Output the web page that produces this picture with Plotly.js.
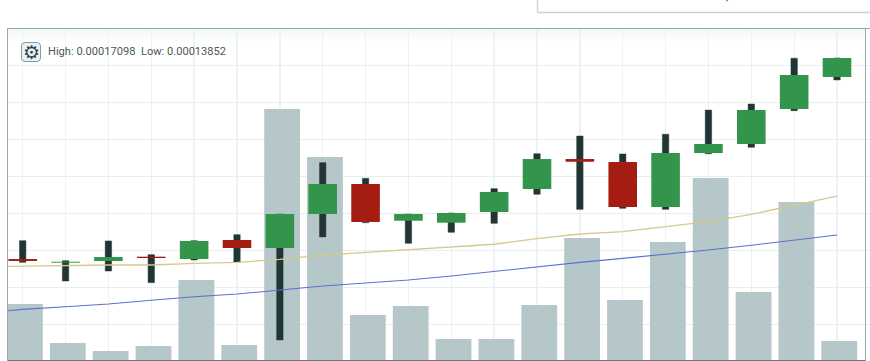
<!DOCTYPE html>
<html>
<head>
<meta charset="utf-8">
<script src="https://cdn.plot.ly/plotly-3.0.1.min.js"></script>
<style>html,body{margin:0;padding:0;background:#fff;overflow:hidden}#chart{width:870px;height:361px}</style>
</head>
<body>
<div id="chart"></div>
<script>
// Prices are in satoshi (1e-8)
const periods = [0,1,2,3,4,5,6,7,8,9,10,11,12,13,14,15,16,17,18,19];
const open  = [14784,14742,14761,14811,14784,15003,14911,15302,15648,15225,15202,15325,15590,15935,15901,15383,16004,16108,16511,16879];
const close = [14761,14753,14807,14796,14992,14911,15302,15648,15210,15302,15314,15556,15935,15904,15383,16004,16108,16499,16902,17098];
const high  = [14995,14765,14992,14834,14995,15064,15302,15893,15713,15302,15314,15594,15996,16200,15993,16220,16499,16568,17095,17098];
const low   = [14746,14531,14646,14512,14773,14750,13852,15038,15202,14965,15092,15195,15529,15356,15368,15356,15996,16070,16491,16845];
const volume = [56,17,9,14,80,15,251,203,45,54,21,21,55,122,60,118,182,68,158,19];
const maPeriods = [-1,0,1,2,3,4,5,6,7,8,9,10,11,12,13,14,15,16,17,18,19];
const maSlow = [14159,14205,14235,14266,14309,14350,14381,14431,14474,14508,14543,14589,14643,14700,14746,14792,14838,14888,14942,15003,15061];
const maFast = [14696,14704,14710,14715,14715,14735,14746,14779,14830,14861,14888,14919,14954,15018,15072,15099,15156,15214,15299,15406,15509];
const rangeText = "High: 0.00017098\u00A0\u00A0Low: 0.00013852";
const topText = "Diff. Volume: 0.03400790 215 ; 30117032.50035395";

const GREEN = "#33954b", RED = "#a51d12", DARK = "#213535", VOL = "#b5c7c9", GRID = "#e9efef";
const W = 870, H = 361, L = 8, R = 865, T = 29, B = 360;
const px = x => (x - L) / (R - L);
const py = y => (B - y) / (B - T);

const traces = [
  {type:"bar", x:periods, y:volume, xaxis:"x", yaxis:"y", width:0.835, offset:-0.365,
   marker:{color:VOL, line:{width:0}}, hoverinfo:"skip"},
  {type:"bar", x:periods, y:high.map((h,i)=>h-low[i]), base:low, xaxis:"x", yaxis:"y2", width:0.15,
   marker:{color:DARK, line:{width:1, color:"rgba(32,53,53,0.45)"}}, hoverinfo:"skip"},
  {type:"bar", x:periods, y:close.map((c,i)=>Math.abs(c-open[i])), base:close.map((c,i)=>Math.min(c,open[i])),
   xaxis:"x", yaxis:"y2", width:0.667,
   marker:{color:close.map((c,i)=>c>=open[i]?GREEN:RED), line:{width:0}}, hoverinfo:"skip"},
  {type:"scatter", mode:"lines", x:maPeriods, y:maFast, xaxis:"x", yaxis:"y2",
   line:{color:"#d6ca8a", width:1.3}, hoverinfo:"skip"},
  {type:"scatter", mode:"lines", x:maPeriods, y:maSlow, xaxis:"x", yaxis:"y2",
   line:{color:"#5c70d0", width:1.1}, hoverinfo:"skip"}
];

const shapes = [];
for (let k = 0; k < 6; k++) {
  shapes.push({type:"rect", xref:"paper", yref:"paper", layer:"below",
    x0:0, x1:1, y0:py(T + 2 * (k + 1)), y1:py(T + 2 * k),
    fillcolor:"rgba(225,235,235," + (0.35 - k * 0.055) + ")", line:{width:0}});
}
const edge = (x0,y0,x1,y1,color,width) => ({type:"line", xref:"paper", yref:"paper", layer:"above",
  x0:px(x0), y0:py(y0), x1:px(x1), y1:py(y1), line:{color:color, width:width}});
shapes.push(edge(7.5,28.5,870,28.5,"#8fa9ab",1));
shapes.push(edge(7.5,28.5,7.5,360.5,"#9aa8aa",1));
shapes.push(edge(865.5,28.5,865.5,360.5,"#9aa8aa",1));
shapes.push(edge(7.5,360.5,865.5,360.5,"#6f7d7d",1));
shapes.push(edge(537.5,0,537.5,12.5,"#c3d4d9",1.3));
shapes.push(edge(537.5,12.5,870,12.5,"#c3d4d9",1.3));
// settings button
const bx0 = 21.5, bx1 = 40.5, by0 = 42.5, by1 = 61.5, r = 3.5;
const X = x => px(x), Y = y => py(y);
shapes.push({type:"path", xref:"paper", yref:"paper", layer:"above",
  path:`M ${X(bx0+r)} ${Y(by0)} L ${X(bx1-r)} ${Y(by0)} Q ${X(bx1)} ${Y(by0)} ${X(bx1)} ${Y(by0+r)} L ${X(bx1)} ${Y(by1-r)} Q ${X(bx1)} ${Y(by1)} ${X(bx1-r)} ${Y(by1)} L ${X(bx0+r)} ${Y(by1)} Q ${X(bx0)} ${Y(by1)} ${X(bx0)} ${Y(by1-r)} L ${X(bx0)} ${Y(by0+r)} Q ${X(bx0)} ${Y(by0)} ${X(bx0+r)} ${Y(by0)} Z`,
  fillcolor:"#eaf1f3", line:{color:"#7f9ca0", width:1}});

const annotations = [
  {xref:"paper", yref:"paper", x:px(48), y:py(52), xanchor:"left", yanchor:"middle", showarrow:false, borderpad:0, borderwidth:0,
   text:rangeText, font:{family:"Roboto, sans-serif", size:11.1, color:"#4a5858"}},
  {xref:"paper", yref:"paper", x:px(31), y:py(51.5), xanchor:"center", yanchor:"middle", showarrow:false,
   text:"<b>\u2699</b>", font:{family:"DejaVu Sans", size:19, color:"#2c4652"}},
  {xref:"paper", yref:"paper", x:px(569), y:py(-4.1), xanchor:"left", yanchor:"middle", showarrow:false,
   text:topText, font:{family:"Roboto, sans-serif", size:11.5, color:"#222"}}
];

const layout = {
  width:W, height:H, margin:{l:L, r:W-R, t:T, b:H-B, pad:0},
  paper_bgcolor:"#fff", plot_bgcolor:"#fff", showlegend:false, barmode:"overlay", hovermode:false,
  xaxis:{range:[-0.343,19.653], tick0:0, dtick:1, tickmode:"linear", showgrid:true, gridcolor:"#edf2f2", gridwidth:1.3,
         showticklabels:false, ticks:"", zeroline:false, showline:false, fixedrange:true},
  yaxis:{range:[0,331], tick0:36, dtick:37, tickmode:"linear", showgrid:true, gridcolor:GRID, gridwidth:1,
         side:"right", ticks:"outside", ticklen:5, tickcolor:GRID, tickwidth:1,
         showticklabels:false, zeroline:false, showline:false, fixedrange:true},
  yaxis2:{range:[13621.8,17431.6], overlaying:"y", side:"left", visible:false, showgrid:false, zeroline:false, fixedrange:true},
  shapes:shapes, annotations:annotations
};
Plotly.newPlot("chart", traces, layout, {displayModeBar:false, staticPlot:true});
</script>
</body>
</html>
